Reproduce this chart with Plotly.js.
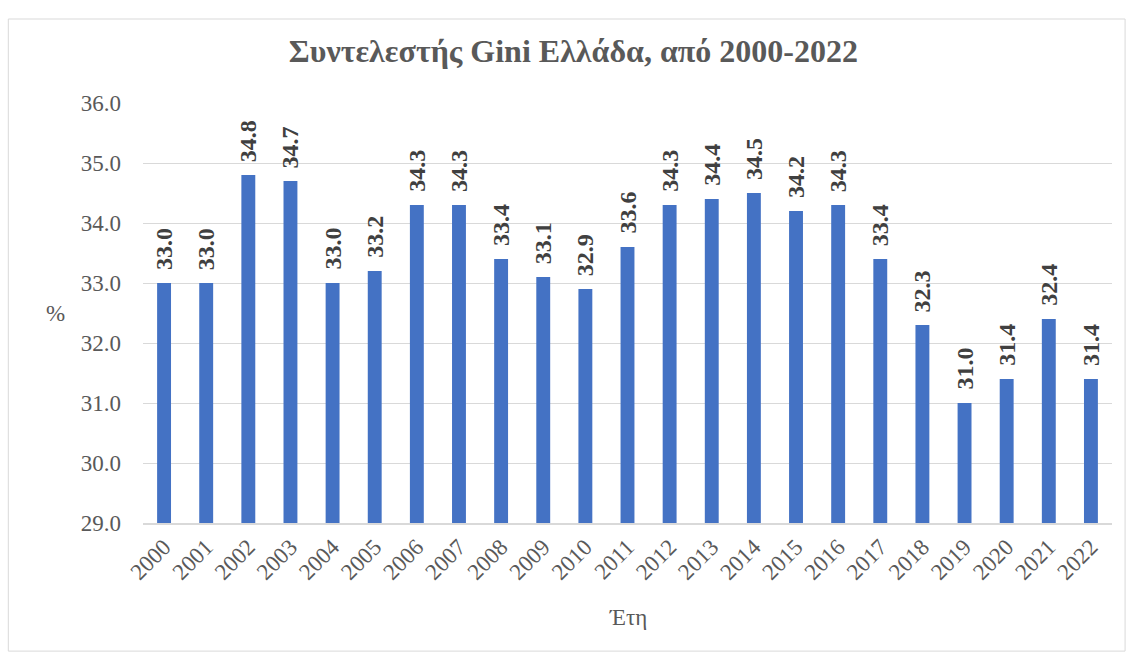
<!DOCTYPE html>
<html>
<head>
<meta charset="utf-8">
<script src="https://cdn.plot.ly/plotly-3.0.1.min.js"></script>
<style>html,body{margin:0;padding:0;background:#fff;}#chart{width:1131px;height:654px;}</style>
</head>
<body>
<div id="chart"></div>
<script>
const years = ['2000','2001','2002','2003','2004','2005','2006','2007','2008','2009','2010','2011','2012','2013','2014','2015','2016','2017','2018','2019','2020','2021','2022'];
const gini = [33.0,33.0,34.8,34.7,33.0,33.2,34.3,34.3,33.4,33.1,32.9,33.6,34.3,34.4,34.5,34.2,34.3,33.4,32.3,31.0,31.4,32.4,31.4];
const yTicks = [29,30,31,32,33,34,35,36];
const titleText = 'Συντελεστής Gini Ελλάδα, από 2000-2022';
const xTitle = 'Έτη';
const yTitle = '%';

const serif = 'Liberation Serif';

const trace = {
  type: 'bar',
  x: years,
  y: gini,
  marker: {color: '#4472C4'},
  width: 0.33,
  hoverinfo: 'none'
};

const labelAnnotations = years.map((yr, i) => ({
  x: i, y: gini[i], xref: 'x', yref: 'y',
  text: '<b>' + gini[i].toFixed(1) + '</b>',
  textangle: -90, showarrow: false,
  xanchor: 'center', yanchor: 'bottom', yshift: 11,
  font: {family: serif, size: 24, color: '#404040'}
}));

const layout = {
  width: 1131, height: 654,
  margin: {l: 143, r: 19, t: 103, b: 131},
  paper_bgcolor: '#ffffff', plot_bgcolor: '#ffffff',
  showlegend: false,
  title: {text: '<b>' + titleText + '</b>', font: {family: serif, size: 32, color: '#595959'}, x: 0.507, xanchor: 'center', xref: 'container', y: 0.923, yanchor: 'middle'},
  xaxis: {
    type: 'category', tickangle: -45, range: [-0.5, years.length - 0.5],
    tickfont: {family: serif, size: 23, color: '#595959'},
    showgrid: false, showline: true, linecolor: '#d9d9d9', linewidth: 1.5,
    ticks: '', ticklen: 0
  },
  yaxis: {
    range: [29, 36], tickvals: yTicks, tickformat: '.1f',
    tickfont: {family: serif, size: 23, color: '#595959'},
    showgrid: true, gridcolor: '#d9d9d9', gridwidth: 1,
    zeroline: false, showline: false, ticks: '', ticklabelstandoff: 21
  },
  annotations: [
    {text: yTitle, xref: 'paper', yref: 'paper', x: -0.09, y: 0.5, showarrow: false, xanchor: 'center', yanchor: 'middle', font: {family: serif, size: 23, color: '#595959'}},
    {text: xTitle, xref: 'paper', yref: 'paper', x: 0.5, y: -0.225, showarrow: false, xanchor: 'center', yanchor: 'middle', font: {family: serif, size: 23, color: '#595959'}}
  ].concat(labelAnnotations),
  shapes: [
    {type: 'rect', xref: 'paper', yref: 'paper', x0: -0.139, x1: 1.0135, y0: -0.305, y1: 1.2, line: {color: '#d9d9d9', width: 1}, fillcolor: 'rgba(0,0,0,0)', layer: 'below'}
  ]
};

Plotly.newPlot('chart', [trace], layout, {displayModeBar: false, staticPlot: true});
</script>
</body>
</html>
